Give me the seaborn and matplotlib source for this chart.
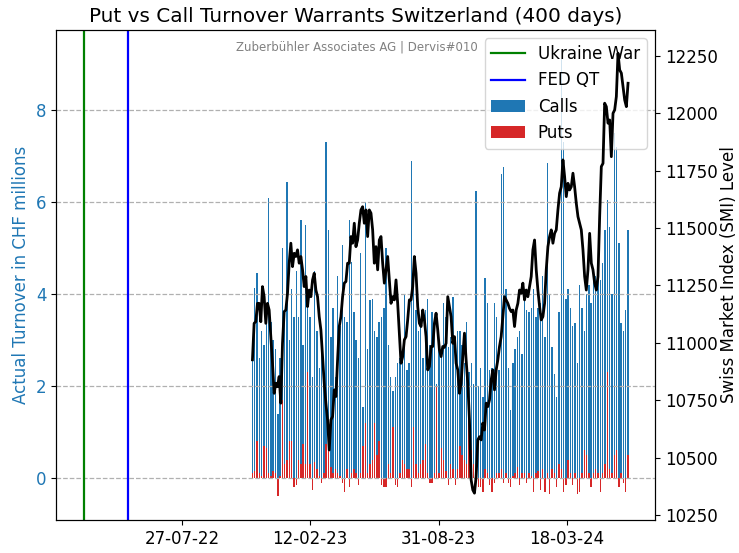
import numpy as np
import pandas as pd
import matplotlib
matplotlib.use("Agg")
import matplotlib.pyplot as plt
import matplotlib.dates as mdates
import seaborn as sns

# ---------------- data ----------------
start_date = "2022-11-14"
end_date = "2024-06-21"
ukraine_war = "2022-02-24"
fed_qt = "2022-05-04"
xtick_dates = ["2022-07-27", "2023-02-12", "2023-08-31", "2024-03-18"]
smi_ticks = [10250, 10500, 10750, 11000, 11250, 11500, 11750, 12000, 12250]

calls = [
    3.0, 4.12, 4.46, 2.6, 3.2, 2.9, 3.8, 6.08, 3.4, 3.0, 2.8, 1.4, 2.6, 5.0, 3.5, 6.43,
    3.0, 4.1, 3.5, 4.5, 3.5, 5.6, 2.9, 5.5, 4.0, 3.5, 2.2, 4.5, 3.2, 2.4, 3.2, 2.06,
    7.3, 5.4, 3.07, 3.7, 2.2, 4.4, 3.3, 5.07,
    3.5, 3.4, 5.6, 4.7, 3.6, 3.0, 2.6, 4.9, 1.55, 6.0, 2.8, 3.87, 3.9, 3.2, 3.07, 3.4,
    3.5, 3.7, 5.0, 2.9, 2.2, 1.9, 2.2, 2.5, 2.6, 2.6, 4.0, 2.35, 2.5, 6.9, 4.3, 3.65,
    3.2, 3.4, 2.6, 3.65, 3.9, 2.9, 3.6, 3.4, 2.05, 2.9,
    2.8, 3.8, 3.5, 2.85, 3.07, 3.94, 2.5, 3.2, 3.2, 2.9, 2.5, 3.4, 2.3, 2.5, 2.05, 6.24,
    2.0, 2.4, 1.77, 4.34, 3.8, 2.35, 2.4, 3.8, 3.5, 2.35, 6.6, 6.77, 4.1, 2.4, 1.48, 2.5,
    2.8, 3.07, 3.2, 2.7, 3.94, 3.65, 3.6, 3.7, 4.1, 3.5,
    3.7, 3.8, 4.4, 3.07, 6.84, 4.0, 2.85, 2.27, 1.77, 3.6, 9.1, 7.3, 3.9, 4.1, 3.7, 3.3,
    3.36, 2.5, 4.2, 3.7, 3.2, 4.0, 4.2, 3.8, 4.45, 4.4, 4.5, 4.3, 4.67, 5.4, 6.04, 5.46,
    4.0, 7.5, 7.2, 5.1, 3.36, 3.2, 3.65, 5.4,
]

puts = [
    0.1, 0.15, 0.8, 0.1, 0.05, 0.7, 0.65, 0.1, 0.05, 0.15, 0.1, -0.4, 0.05, 1.7, 0.3, 0.4,
    0.8, 0.8, -0.2, -0.15, 0.4, 0.3, 0.75, 0.3, 2.3, 0.3, -0.25, 0.35, 0.2, 0.05, -0.1, 0.1,
    0.75, 0.6, 0.25, 0.1, 0.2, 0.1, 0.05, -0.1,
    -0.3, 0.2, -0.2, 0.1, 0.2, 0.1, -0.15, 0.1, 0.7, 1.2, 0.1, 0.3, 0.4, 1.2, 0.5, 0.8,
    -0.15, -0.2, -0.2, 0.3, 0.1, 1.1, -0.15, -0.2, 0.1, 0.4, 0.3, 0.2, 0.2, -0.2, 1.1, 0.3,
    0.1, 0.3, 0.4, 0.75, 0.1, -0.1, -0.1, 0.1, 2.0, 0.1,
    0.65, 0.4, 0.15, -0.15, 0.3, 0.2, -0.15, 0.2, 0.7, 0.5, 0.4, 0.3, 1.45, 0.6, 0.3, 0.1,
    -0.2, -0.2, -0.3, 0.2, 0.1, -0.15, -0.3, -0.1, 0.1, 0.1, 0.2, -0.1, 0.1, -0.1, -0.2, 0.05,
    0.1, 0.25, -0.15, 0.1, 0.1, -0.1, 0.1, 0.05, -0.3, 0.1,
    0.15, -0.25, 0.2, -0.3, 0.1, -0.35, 0.2, 0.1, -0.2, 0.3, 0.2, -0.3, -0.15, 0.4, 0.1, -0.15,
    0.1, -0.35, -0.3, 0.1, 0.6, 0.5, 0.1, -0.2, 0.1, 0.2, 0.1, -0.3, 0.1, 0.3, 2.3, 0.2,
    0.1, 0.5, 0.6, -0.2, 0.1, -0.1, -0.3, 0.5,
]

smi = [
    10926, 11085, 11092, 11172, 11172, 11092, 11245, 11201, 11085, 11172, 11143, 11027,
    10911, 10780, 10824, 10809, 10853, 10737, 10998, 11136, 11143, 11216, 11347, 11434,
    11332, 11390, 11376, 11405, 11347, 11376, 11318, 11245, 11289, 11158, 11230, 11201,
    11274, 11303, 11230, 11201, 11114, 11056, 10940, 10824, 10737, 10664, 10533, 10664,
    10679, 10795, 10766, 10926, 11071, 11114, 11201, 11260, 11267,
    11347, 11347, 11463, 11434, 11521, 11419, 11448, 11521, 11579, 11593, 11521, 11579,
    11463, 11579, 11565, 11492, 11347, 11419, 11318, 11448, 11463, 11347, 11260, 11318,
    11376, 11274, 11172, 11201, 11187, 11274, 11172, 11042, 10911, 10940, 11013, 11027,
    11100, 11187, 11187, 11245, 11376, 11303, 11158, 11085, 11071, 11143, 11100, 11027,
    10882, 10897, 10984, 10984, 11085, 11129, 11056, 10969, 10940, 10984,
    10980, 10998, 11201, 11158, 11114, 10998, 11027, 10911, 10882, 10780, 10824, 10940,
    11042, 10926, 10824, 10664, 10403, 10359, 10345, 10417, 10577, 10591, 10577, 10650,
    10620, 10737, 10722, 10751, 10838, 10882, 10795, 10882, 10926, 10984, 11027, 11114,
    11201, 11187, 11172, 11150, 11136, 11143, 11071, 11143, 11172, 11230, 11216, 11260,
    11187, 11230, 11201, 11245, 11289, 11405, 11448, 11318, 11230, 11158, 11100,
    11114, 11172, 11318, 11419, 11463, 11492, 11434, 11477, 11492, 11579, 11652, 11680,
    11797, 11724, 11637, 11695, 11666, 11680, 11739, 11680, 11608, 11550, 11521, 11492,
    11405, 11289, 11230, 11318, 11477, 11347, 11318, 11260, 11230, 11289, 11550, 11768,
    11782, 12044, 12029, 11957, 11971, 11811, 12000, 12015, 12073, 12262, 12189, 12175,
    12116, 12058, 12029, 12131,
]

bar_dates = pd.date_range(start_date, end_date, periods=len(calls))
smi_dates = pd.date_range(start_date, end_date, periods=len(smi))
df_bars = pd.DataFrame({"date": bar_dates, "calls": calls, "puts": puts})
df_smi = pd.DataFrame({"date": smi_dates, "smi": smi})

# ---------------- plot ----------------
plt.rcParams["font.family"] = ["DejaVu Sans"]
plt.rcParams["font.size"] = 12

fig = plt.figure(figsize=(7.39, 5.53), dpi=100)
ax = fig.add_axes([56 / 739, 1 - 520 / 553, (655 - 56) / 739, 490 / 553])

ax.axvline(pd.Timestamp(ukraine_war), color="green", linewidth=1.6, label="Ukraine War")
ax.axvline(pd.Timestamp(fed_qt), color="blue", linewidth=1.6, label="FED QT")
ax.bar(df_bars["date"], df_bars["calls"], width=2.2, color="#1f77b4", label="Calls")
ax.bar(df_bars["date"], df_bars["puts"], width=2.2, color="#d62728", label="Puts")

ax.set_ylim(-0.913, 9.74)
ax.set_yticks([0, 2, 4, 6, 8])
ax.set_ylabel("Actual Turnover in CHF millions", color="#1f77b4", fontsize=12)
ax.tick_params(axis="y", labelcolor="#1f77b4", labelsize=12)
ax.tick_params(axis="x", labelsize=12)
ax.grid(axis="y", linestyle="--", color="#b0b0b0", linewidth=0.9)
ax.set_xlim(pd.Timestamp("2022-01-12"), pd.Timestamp("2024-08-02"))
ax.set_xticks([pd.Timestamp(d) for d in xtick_dates])
ax.xaxis.set_major_formatter(mdates.DateFormatter("%d-%m-%y"))
ax.set_title("Put vs Call Turnover Warrants Switzerland (400 days)", fontsize=14.4, pad=6)

leg = ax.legend(loc="upper right", fontsize=12, framealpha=0.8)

ax.text(0.704, 0.965, "Zuberbühler Associates AG | Dervis#010", transform=ax.transAxes,
        ha="right", va="center", fontsize=8.5, color="gray")

ax2 = ax.twinx()
sns.lineplot(data=df_smi, x="date", y="smi", ax=ax2, color="black", linewidth=2.0, legend=False)
ax2.set_ylim(10228, 12363)
ax2.set_yticks(smi_ticks)
ax2.set_ylabel("Swiss Market Index (SMI) Level", fontsize=12, labelpad=2)
ax2.tick_params(axis="y", labelsize=12)
ax2.set_xlim(pd.Timestamp("2022-01-12"), pd.Timestamp("2024-08-02"))
ax2.set_xlabel("")

fig.savefig("out.png", dpi=100)
